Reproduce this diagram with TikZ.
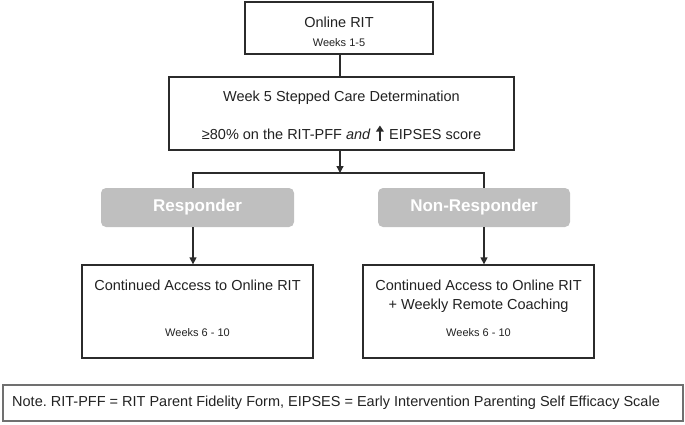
\documentclass[tikz,border=0pt]{standalone}
\usepackage{fontspec}
\setmainfont{Liberation Sans}
\usetikzlibrary{arrows.meta}
\definecolor{linec}{HTML}{2B2B2B}
\definecolor{txtc}{HTML}{222222}
\definecolor{respfill}{HTML}{BFBFBF}
\definecolor{notec}{HTML}{707070}
\tikzset{
  boxnode/.style={draw=linec, line width=1.3pt, fill=white, inner sep=0pt},
  respnode/.style={fill=respfill, rounded corners=5pt, inner sep=0pt, text=white,
    font=\fontsize{17}{20}\selectfont\bfseries},
  notenode/.style={draw=notec, line width=1.3pt, inner sep=0pt},
  maintext/.style={text=txtc, inner sep=0pt, font=\fontsize{14.5}{17}\selectfont},
  smalltext/.style={text=txtc, inner sep=0pt, font=\fontsize{11}{13}\selectfont},
  notetext/.style={text=txtc, inner sep=0pt, anchor=west, font=\fontsize{14.5}{17}\selectfont},
  conn/.style={draw=linec, line width=1.3pt},
  arr/.style={conn, -{Triangle[width=7pt,length=7pt]}}
}
\begin{document}
\frenchspacing
\begin{tikzpicture}[x=1pt,y=-1pt]
\useasboundingbox (0,0) rectangle (685,424);
% boxes
\node[boxnode, minimum width=188pt, minimum height=52pt] (top) at (339,28) {};
\node[maintext] (toptxt) at (339,22) {Online RIT};
\node[smalltext] (topwk) at (339,43) {Weeks 1-5};

\node[boxnode, minimum width=345pt, minimum height=73pt] (det) at (341.5,113.5) {};
\node[maintext] (dettxt) at (341.5,98) {Week 5 Stepped Care Determination};
\node[maintext] (detcrit) at (341.5,133) {≥80\% on the RIT-PFF \textit{and}\hspace{1.5pt}
  \tikz[baseline=0pt]{\draw[line width=1.6pt, linec, -{Triangle[width=7.5pt,length=6pt]}] (0,-1pt) -- (0,14pt);}\hspace{1.5pt}
  EIPSES score};

\node[respnode, minimum width=193pt, minimum height=39pt] (resp) at (197.5,207.5) {Responder};
\node[respnode, minimum width=192pt, minimum height=39pt] (nonresp) at (474,207.5) {Non-Responder};

\node[boxnode, minimum width=231pt, minimum height=93pt] (cont1) at (197.5,311.5) {};
\node[maintext] (c1txt) at (197.5,285) {Continued Access to Online RIT};
\node[smalltext] (c1wk) at (197.5,333) {Weeks 6 - 10};

\node[boxnode, minimum width=231pt, minimum height=93pt] (cont2) at (478.5,311.5) {};
\node[maintext] (c2txt) at (478.5,285) {Continued Access to Online RIT};
\node[maintext] (c2txtb) at (478.5,306) {+ Weekly Remote Coaching};
\node[smalltext] (c2wk) at (478.5,333) {Weeks 6 - 10};

\node[notenode, minimum width=680pt, minimum height=36pt] (note) at (343,403) {};
\node[notetext] (notetxt) at (12,403) {Note. RIT-PFF = RIT Parent Fidelity Form, EIPSES = Early Intervention Parenting Self Efficacy Scale};

% connectors
\coordinate (mx) at (340,0);
\coordinate (lx) at (193,0);
\coordinate (rx) at (484,0);
\coordinate (split) at (340,173);
\draw[conn] (mx |- top.south) -- (mx |- det.north);
\draw[arr] (mx |- det.south) -- (split);
\draw[conn] (lx |- resp.north) -- (lx |- split) -- (rx |- split) -- (rx |- nonresp.north);
\draw[arr] (lx |- resp.south) -- (lx |- cont1.north);
\draw[arr] (rx |- nonresp.south) -- (rx |- cont2.north);
\end{tikzpicture}
\end{document}
